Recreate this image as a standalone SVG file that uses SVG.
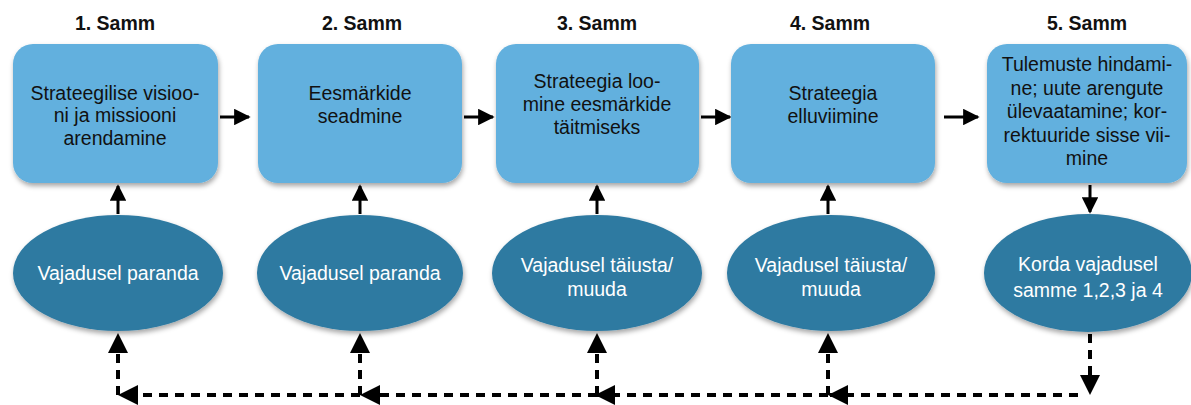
<svg xmlns="http://www.w3.org/2000/svg" width="1191" height="405" viewBox="0 0 1191 405">
<style>
.title{font-family:"Liberation Sans",Arial,sans-serif;font-size:19.5px;font-weight:bold;fill:#111;text-anchor:middle}
.bt{font-family:"Liberation Sans",Arial,sans-serif;font-size:19.5px;fill:#111;text-anchor:middle}
.et{font-family:"Liberation Sans",Arial,sans-serif;font-size:19.5px;fill:#fff;text-anchor:middle}
.box{fill:#62b0de;filter:url(#sh)}
.ell{fill:#2f7aa1;filter:url(#sh)}
.solid{stroke:#000;stroke-width:3;fill:none;marker-end:url(#ah)}
.dash{stroke:#000;stroke-width:4;fill:none;stroke-dasharray:9 7;marker-end:url(#ah2)}
</style>
<defs>
<filter id="sh" x="-10%" y="-10%" width="125%" height="130%">
<feDropShadow dx="1" dy="3" stdDeviation="2.5" flood-color="#000" flood-opacity="0.35"/>
</filter>
<marker id="ah" viewBox="0 0 10 10" refX="9" refY="5" markerWidth="5.5" markerHeight="5.5" orient="auto" markerUnits="strokeWidth">
<path d="M0,0 L10,5 L0,10 z" fill="#000"/>
</marker>
<marker id="ah2" viewBox="0 0 10 10" refX="9" refY="5" markerWidth="5" markerHeight="6" orient="auto" markerUnits="strokeWidth">
<path d="M0,0 L10,5 L0,10 z" fill="#000"/>
</marker>
</defs>

<g id="connectors">
<line class="solid" x1="220" y1="117" x2="249" y2="117"/>
<line class="solid" x1="464" y1="117" x2="493" y2="117"/>
<line class="solid" x1="701" y1="117" x2="730" y2="117"/>
<line class="solid" x1="944" y1="117" x2="978" y2="117"/>
<line class="solid" x1="118" y1="214" x2="118" y2="186"/>
<line class="solid" x1="360" y1="214" x2="360" y2="186"/>
<line class="solid" x1="597" y1="214" x2="597" y2="186"/>
<line class="solid" x1="828" y1="214" x2="828" y2="186"/>
<line class="solid" x1="1090" y1="185" x2="1090" y2="212"/>
<line class="dash" x1="1090" y1="334" x2="1090" y2="393"/>
<line class="dash" x1="1078" y1="395" x2="830" y2="395"/>
<line class="dash" x1="828" y1="395" x2="597" y2="395"/>
<line class="dash" x1="597" y1="395" x2="362" y2="395"/>
<line class="dash" x1="360" y1="395" x2="120" y2="395"/>
<line class="dash" x1="118" y1="395" x2="118" y2="335"/>
<line class="dash" x1="360" y1="395" x2="360" y2="335"/>
<line class="dash" x1="597" y1="395" x2="597" y2="335"/>
<line class="dash" x1="828" y1="395" x2="828" y2="335"/>
</g>

<g id="step1">
<text class="title" x="115" y="30">1. Samm</text>
<rect class="box" x="13" y="44" width="205" height="139" rx="20"/>
<text class="bt" x="115" y="100">Strateegilise visioo-</text>
<text class="bt" x="115" y="122">ni ja missiooni</text>
<text class="bt" x="115" y="145">arendamine</text>
</g>
<g id="step2">
<text class="title" x="362" y="30">2. Samm</text>
<rect class="box" x="258" y="44" width="204" height="139" rx="20"/>
<text class="bt" x="360" y="100">Eesmärkide</text>
<text class="bt" x="360" y="123">seadmine</text>
</g>
<g id="step3">
<text class="title" x="597" y="30">3. Samm</text>
<rect class="box" x="496" y="44" width="203" height="139" rx="20"/>
<text class="bt" x="597" y="88">Strateegia loo-</text>
<text class="bt" x="597" y="111">mine eesmärkide</text>
<text class="bt" x="597" y="134">täitmiseks</text>
</g>
<g id="step4">
<text class="title" x="830" y="30">4. Samm</text>
<rect class="box" x="731" y="44" width="204" height="139" rx="20"/>
<text class="bt" x="833" y="100">Strateegia</text>
<text class="bt" x="833" y="123">elluviimine</text>
</g>
<g id="step5">
<text class="title" x="1087" y="30">5. Samm</text>
<rect class="box" x="987" y="44" width="200" height="139" rx="20"/>
<text class="bt" x="1087" y="71">Tulemuste hindami-</text>
<text class="bt" x="1087" y="95">ne; uute arengute</text>
<text class="bt" x="1087" y="118">ülevaatamine; kor-</text>
<text class="bt" x="1087" y="142">rektuuride sisse vii-</text>
<text class="bt" x="1087" y="165">mine</text>
</g>

<g id="ell1">
<ellipse class="ell" cx="118" cy="273" rx="105" ry="58"/>
<text class="et" x="118" y="280">Vajadusel paranda</text>
</g>
<g id="ell2">
<ellipse class="ell" cx="360" cy="273" rx="103" ry="58"/>
<text class="et" x="360" y="280">Vajadusel paranda</text>
</g>
<g id="ell3">
<ellipse class="ell" cx="597" cy="273" rx="105" ry="58"/>
<text class="et" x="597" y="272">Vajadusel täiusta/</text>
<text class="et" x="597" y="296">muuda</text>
</g>
<g id="ell4">
<ellipse class="ell" cx="831" cy="273" rx="104" ry="58"/>
<text class="et" x="831" y="272">Vajadusel täiusta/</text>
<text class="et" x="831" y="296">muuda</text>
</g>
<g id="ell5">
<ellipse class="ell" cx="1088" cy="273" rx="104" ry="59"/>
<text class="et" x="1088" y="271">Korda vajadusel</text>
<text class="et" x="1088" y="297">samme 1,2,3 ja 4</text>
</g>
</svg>
